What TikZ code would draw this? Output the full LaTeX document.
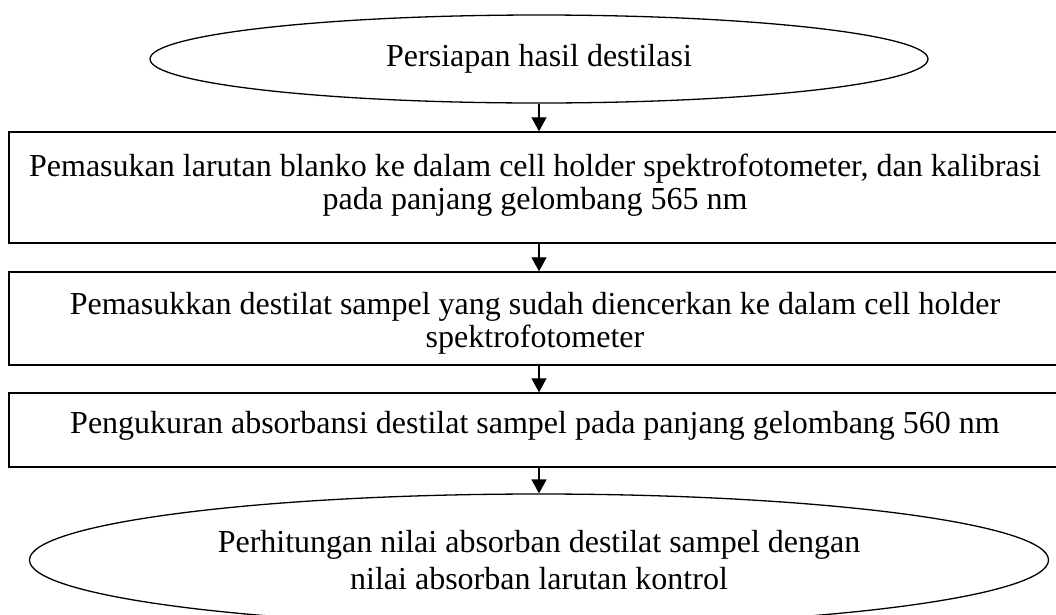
\documentclass[tikz,border=0pt]{standalone}
\usepackage{fontspec}
\setmainfont{Liberation Serif}
\usetikzlibrary{arrows.meta,positioning,shapes.geometric}

\begin{document}
\begin{tikzpicture}[x=1pt, y=-1pt,
  terminal/.style={ellipse, draw, line width=1.3pt, inner sep=0pt, align=center},
  stepbox/.style={rectangle, draw, line width=1.5pt, minimum width=1052pt, inner sep=0pt},
  steptext/.style={inner sep=0pt, align=center, anchor=north},
  arr/.style={-{Triangle[length=14pt, width=15pt]}, line width=1.4pt}
]
  \clip (0,0) rectangle (1056,614);
  % start and end
  \node[terminal, minimum width=778pt, minimum height=88pt, font=\fontsize{32}{33}\selectfont] (persiapan) at (539,59) {Persiapan hasil destilasi};
  \node[terminal, minimum width=1019pt, minimum height=132pt, font=\fontsize{32}{37}\selectfont] (perhitungan) at (539,560) {Perhitungan nilai absorban destilat sampel dengan\\ nilai absorban larutan kontrol};
  % process boxes
  \node[stepbox, minimum height=111pt] (blanko) at (535,187.5) {};
  \node[stepbox, minimum height=93pt]  (masuk)  at (535,318.5) {};
  \node[stepbox, minimum height=74pt]  (ukur)   at (535,430) {};
  \node[steptext, font=\fontsize{32}{33}\selectfont, below=23pt of blanko.north] (blankotext) {Pemasukan larutan blanko ke dalam cell holder spektrofotometer, dan kalibrasi\\ pada panjang gelombang 565 nm};
  \node[steptext, font=\fontsize{32}{33}\selectfont, below=21pt of masuk.north] (masuktext) {Pemasukkan destilat sampel yang sudah diencerkan ke dalam cell holder\\ spektrofotometer};
  \node[steptext, font=\fontsize{32}{33}\selectfont, below=19pt of ukur.north] (ukurtext) {Pengukuran absorbansi destilat sampel pada panjang gelombang 560 nm};
  % arrows
  \draw[arr] (persiapan.south) -- (persiapan.south |- blanko.north);
  \draw[arr] (persiapan.south |- blanko.south) -- (persiapan.south |- masuk.north);
  \draw[arr] (persiapan.south |- masuk.south) -- (persiapan.south |- ukur.north);
  \draw[arr] (persiapan.south |- ukur.south) -- (perhitungan.north);
\end{tikzpicture}
\end{document}
